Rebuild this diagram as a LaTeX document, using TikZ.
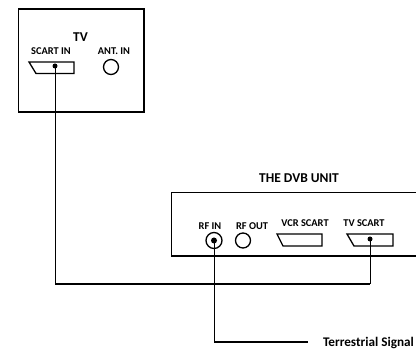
\documentclass[tikz,border=0pt]{standalone}
\usepackage{fontspec}
\setmainfont{Carlito}
\tikzset{
  x=1pt,y=-1pt,
  box/.style={draw=black,line width=1.6pt},
  port/.style={draw=black,line width=1.3pt},
  jack/.style={circle,draw=black,line width=1.3pt,inner sep=0pt,minimum size=15pt},
  pin/.style={circle,fill=black,inner sep=0pt,minimum size=5pt},
  wire/.style={draw=black,line width=1pt},
  hwire/.style={draw=black,line width=1.5pt},
  lab/.style={font=\bfseries\fontsize{10.4}{11}\selectfont,inner sep=0pt,anchor=center},
  title/.style={font=\bfseries\fontsize{13.5}{14}\selectfont,inner sep=0pt,anchor=center}
}
\begin{document}
\begin{tikzpicture}
\useasboundingbox (0,0) rectangle (416,350);
% TV
\draw[box] (18.5,9) rectangle (144,112);
\node[title] (tv) at (80.5,37) {TV};
\node[lab] (scartin) at (51,51) {SCART IN};
\node[lab] (antin) at (114,51) {ANT. IN};
\draw[port] (29,62) -- (74,62) -- (74,73.5) -- (36,73.5) -- cycle;
\node[pin] (tvdot) at (55,66) {};
\node[jack] (ant) at (111,67) {};
% DVB
\node[title] (dvb) at (299,178) {THE DVB UNIT};
\draw[box] (417,192.5) -- (171.5,192.5) -- (171.5,256) -- (417,256);
\node[lab] (rfin) at (210,226) {RF IN};
\node[lab] (rfout) at (252,226.5) {RF OUT};
\node[lab] (vcr) at (305,223) {VCR SCART};
\node[lab] (tvs) at (364,223) {TV SCART};
\node[jack,minimum size=16pt] (rfjack) at (214,240.5) {};
\node[pin,minimum size=6pt] (rfdot) at (214,240.5) {};
\node[jack] (rfoutjack) at (243,240.5) {};
\draw[port] (277,234) -- (322,234) -- (322,246) -- (283,246) -- cycle;
\draw[port] (347,234) -- (393,234) -- (393,246) -- (354,246) -- cycle;
\node[pin] (tvsdot) at (370,239) {};
% wires
\coordinate (c1) at (55,284);
\coordinate (c2) at (370,284);
\coordinate (c3) at (214,342);
\coordinate (c4) at (308,342);
\draw[wire] (tvdot.center) -- (c1);
\draw[wire] (tvsdot.center) -- (c2);
\draw[hwire] (c1) -- (c2);
\draw[wire] (rfdot.center) -- (c3);
\draw[hwire] (c3) -- (c4);
\node[title,font=\bfseries\fontsize{13.2}{14}\selectfont] (sig) at (368.5,343.3) {Terrestrial Signal};
\end{tikzpicture}
\end{document}
